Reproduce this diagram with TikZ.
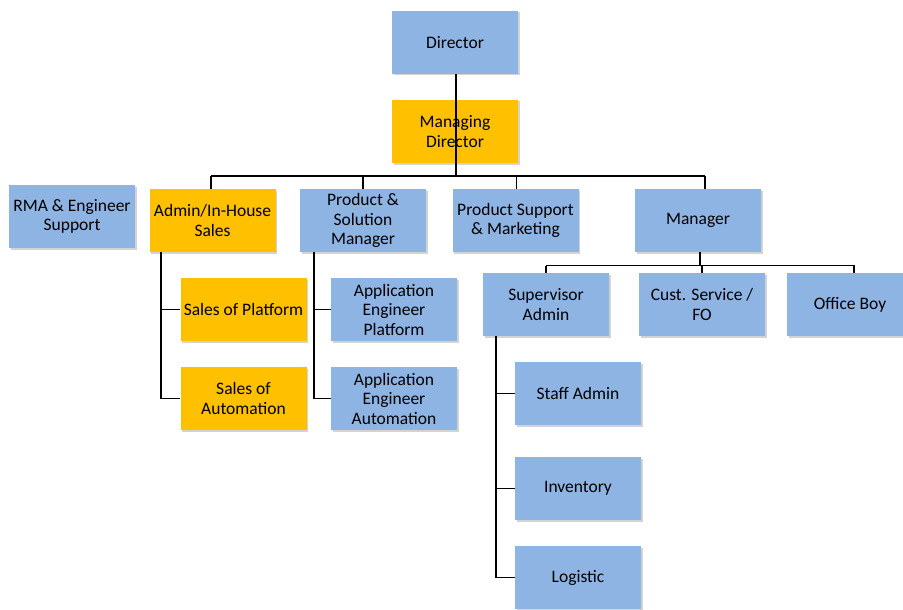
\documentclass[tikz,border=0pt]{standalone}
\usepackage{fontspec}
\setmainfont{Carlito}
\usetikzlibrary{shadows}
\definecolor{boxblue}{HTML}{8EB4E3}
\definecolor{boxorange}{HTML}{FFC000}
\tikzset{
  unit/.style={minimum width=126pt, minimum height=63pt, inner sep=0pt, align=center,
    font=\fontsize{17.5}{19.5}\selectfont,
    drop shadow={opacity=0.35, shadow xshift=1.5pt, shadow yshift=-1.5pt}},
  bluebox/.style={unit, fill=boxblue},
  orangebox/.style={unit, fill=boxorange},
  link/.style={draw=black, line width=1.3pt}
}
\begin{document}
\begin{tikzpicture}[x=1pt,y=-1pt]
\useasboundingbox (0,0) rectangle (903,610);
\node[bluebox] (dir) at (455,42.5) {Director};
\node[orangebox] (md) at (455,131.5) {Managing\\Director};
\node[bluebox] (rma) at (72,216.5) {RMA \& Engineer\\Support};
\node[orangebox] (adm) at (212.5,220.5) {Admin/In-House\\Sales};
\node[bluebox] (psm) at (363,220.5) {Product \&\\Solution\\Manager};
\node[bluebox] (psmk) at (515.5,220.5) {Product Support\\\& Marketing};
\node[bluebox] (mgr) at (698,220.5) {Manager};
\node[orangebox] (sp) at (243.5,309.5) {Sales of Platform};
\node[orangebox] (sa) at (243.5,398.5) {Sales of\\Automation};
\node[bluebox] (aep) at (394,309.5) {Application\\Engineer\\Platform};
\node[bluebox] (aea) at (394,398.5) {Application\\Engineer\\Automation};
\node[bluebox] (sup) at (546,304.5) {Supervisor\\Admin};
\node[bluebox] (cs) at (702,304.5) {Cust. Service /\\FO};
\node[bluebox] (ob) at (850,304.5) {Office Boy};
\node[bluebox] (sta) at (578,393.5) {Staff Admin};
\node[bluebox] (inv) at (578,488.5) {Inventory};
\node[bluebox] (log) at (578,577.5) {Logistic};

\coordinate (bus) at (456,176);
\coordinate (mbus) at (700,265.5);

\draw[link] (dir.south -| bus) -- (md.south -| bus);
\draw[link] (md.south -| bus) -- (bus);
\draw[link] (211,176) -- (705,176);
\draw[link] (211,176) -- (adm.north -| 211,0);
\draw[link] (bus -| psm.north) -- (psm.north);
\draw[link] (516.5,176) -- (psmk.north -| 516.5,0);
\draw[link] (705,176) -- (mgr.north -| 705,0);

\draw[link] (mgr.south -| mbus) -- (mbus);
\draw[link] (mbus -| sup.north) -- (854,265.5) -- (ob.north -| 854,0);
\draw[link] (mbus -| sup.north) -- (sup.north);
\draw[link] (mbus -| cs.north) -- (cs.north);

\draw[link] (adm.south -| 161,0) -- (sa.west -| 161,0) -- (sa.west);
\draw[link] (sp.west -| 161,0) -- (sp.west);
\draw[link] (psm.south -| 314,0) -- (aea.west -| 314,0) -- (aea.west);
\draw[link] (aep.west -| 314,0) -- (aep.west);
\draw[link] (sup.south -| 496,0) -- (log.west -| 496,0) -- (log.west);
\draw[link] (sta.west -| 496,0) -- (sta.west);
\draw[link] (inv.west -| 496,0) -- (inv.west);
\end{tikzpicture}
\end{document}
